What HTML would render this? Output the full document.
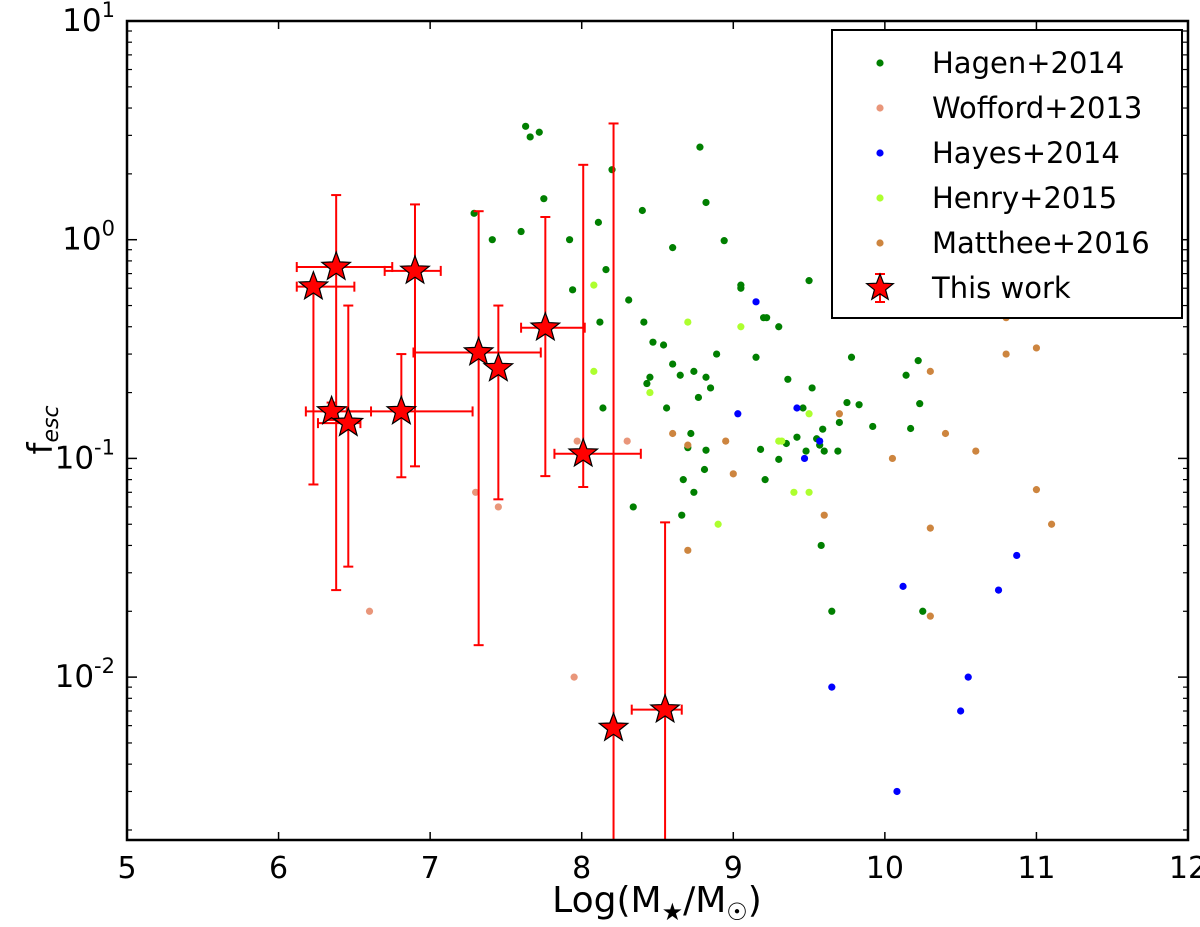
<!DOCTYPE html>
<html><head><meta charset="utf-8"><style>
body{margin:0;background:#fff;}
svg text{font-family:"DejaVu Sans","Liberation Sans",sans-serif;}
</style></head><body>
<svg id="chart" width="1200" height="922" viewBox="0 0 1200 922" xmlns="http://www.w3.org/2000/svg">
<g id="marks"></g>
<g id="axes"></g>
<g id="legend"></g>
</svg>
<script>
const xTicks=[5,6,7,8,9,10,11,12];
const yTickExp=[-2,-1,0,1];
const hagenX=[7.63,7.66,7.72,7.75,7.29,7.41,7.60,7.92,8.11,8.20,8.40,8.60,8.78,8.82,8.94,8.16,7.94,8.12,8.31,8.41,8.47,8.54,8.60,8.65,8.74,8.82,8.89,8.77,8.72,8.45,8.43,8.56,8.70,8.67,8.74,8.81,8.82,8.85,9.50,9.05,9.15,9.20,9.30,9.46,9.52,9.55,9.60,9.69,9.70,9.78,9.92,10.14,10.22,10.17,9.18,9.21,9.22,8.14,8.34,8.66,9.57,9.75,9.65,10.25,10.23,9.42,9.30,9.36,9.83,9.59,9.35,9.48,9.58,9.05];
const hagenY=[3.3,2.95,3.1,1.54,1.32,1.0,1.09,1.0,1.2,2.09,1.36,0.92,2.65,1.48,0.99,0.73,0.59,0.42,0.53,0.42,0.34,0.33,0.27,0.24,0.25,0.235,0.30,0.19,0.13,0.235,0.22,0.17,0.112,0.080,0.070,0.089,0.109,0.21,0.65,0.62,0.29,0.44,0.40,0.17,0.21,0.123,0.108,0.108,0.146,0.29,0.14,0.24,0.28,0.137,0.110,0.080,0.44,0.17,0.060,0.055,0.115,0.18,0.020,0.020,0.178,0.125,0.099,0.23,0.176,0.136,0.117,0.108,0.04,0.60];
const woffordX=[6.6,7.3,7.45,7.95,7.97,8.3];
const woffordY=[0.02,0.07,0.06,0.01,0.12,0.12];
const hayesX=[9.15,9.42,9.47,9.57,9.03,10.08,9.65,10.12,10.5,10.55,10.75,10.87];
const hayesY=[0.52,0.17,0.10,0.12,0.16,0.003,0.009,0.026,0.007,0.01,0.025,0.036];
const henryX=[8.08,8.08,8.45,8.7,9.05,9.3,9.4,9.5,9.5,8.9,9.32];
const henryY=[0.62,0.25,0.2,0.42,0.40,0.12,0.07,0.07,0.16,0.05,0.12];
const mattheeX=[8.6,8.7,8.95,9.0,9.6,9.7,10.05,10.3,10.3,10.3,10.4,10.6,10.8,10.8,11.0,11.0,11.1,8.7];
const mattheeY=[0.13,0.115,0.12,0.085,0.055,0.16,0.1,0.25,0.048,0.019,0.13,0.108,0.44,0.3,0.32,0.072,0.05,0.038];
const starX=[6.23,6.38,6.90,6.35,6.46,6.81,7.32,7.45,7.76,8.01,8.21,8.55];
const starY=[0.61,0.75,0.72,0.164,0.145,0.164,0.305,0.258,0.396,0.105,0.00585,0.0071];
const starXlo=[6.12,6.12,6.70,6.18,6.26,6.45,6.89,7.45,7.60,7.82,8.21,8.33];
const starXhi=[6.50,6.75,7.07,6.61,6.54,7.28,7.73,7.45,8.02,8.39,8.21,8.66];
const starYlo=[0.076,0.025,0.092,0.15,0.032,0.082,0.014,0.065,0.083,0.074,0.0008,0.0008];
const starYhi=[0.63,1.6,1.45,0.18,0.5,0.3,1.35,0.5,1.27,2.2,3.4,0.051];

const L=127,R=1188,T=21,B=840;
const X0=5,X1=12,YL=Math.log10(0.0018),YH=1;
const sx=v=>L+(v-X0)/(X1-X0)*(R-L);
const sy=v=>{let lv=Math.log10(v);lv=Math.max(YL-0.1,Math.min(YH,lv));return B-(lv-YL)/(YH-YL)*(B-T);};
const NS="http://www.w3.org/2000/svg";
function mk(tag,attrs,parent){const e=document.createElementNS(NS,tag);for(const k in attrs)e.setAttribute(k,attrs[k]);parent.appendChild(e);return e;}
const marks=document.getElementById('marks'),axes=document.getElementById('axes'),leg=document.getElementById('legend');
const clip=mk('clipPath',{id:'pc'},document.getElementById('chart'));
mk('rect',{x:L,y:T,width:R-L,height:B-T},clip);
marks.setAttribute('clip-path','url(#pc)');

function scatter(xs,ys,color,name){
  const g=mk('g',{},marks);
  
  
  xs.forEach((x,i)=>{
    const c=mk('circle',{cx:sx(x),cy:sy(ys[i]),r:3.6,fill:color},g);
    
    
  });
}
scatter(hagenX,hagenY,'#007f00','hagen-2014');
scatter(woffordX,woffordY,'#e9967a','wofford-2013');
scatter(hayesX,hayesY,'#0000ff','hayes-2014');
scatter(henryX,henryY,'#adff2f','henry-2015');
scatter(mattheeX,mattheeY,'#cd853f','matthee-2016');

function starPath(cx,cy,r){let p='';for(let i=0;i<10;i++){const a=-Math.PI/2+i*Math.PI/5;const rr=i%2?r*0.42:r;p+=(i?'L':'M')+(cx+rr*Math.cos(a)).toFixed(1)+' '+(cy+rr*Math.sin(a)).toFixed(1);}return p+'Z';}
const sg=mk('g',{},marks);


starX.forEach((x,i)=>{
  const eb=mk('g',{stroke:'#ff0000','stroke-width':2,fill:'none'},sg);
  
  
  const cx=sx(x),cy=sy(starY[i]);
  const y1=sy(starYhi[i]),y2=sy(starYlo[i]);
  mk('line',{x1:cx,x2:cx,y1:y1,y2:y2},eb);
  mk('line',{x1:cx-5,x2:cx+5,y1:y1,y2:y1},eb);
  mk('line',{x1:cx-5,x2:cx+5,y1:y2,y2:y2},eb);
  const x1=sx(starXlo[i]),x2=sx(starXhi[i]);
  if(x2-x1>2){
    mk('line',{x1:x1,x2:x2,y1:cy,y2:cy},eb);
    mk('line',{x1:x1,x2:x1,y1:cy-5,y2:cy+5},eb);
    mk('line',{x1:x2,x2:x2,y1:cy-5,y2:cy+5},eb);
  }
});
starX.forEach((x,i)=>{
  const s=mk('path',{d:starPath(sx(x),sy(starY[i]),15),fill:'#ff0000',stroke:'#000','stroke-width':1.2},sg);
  
  
});

const fr=mk('rect',{x:L,y:T,width:R-L,height:B-T,fill:'none',stroke:'#000','stroke-width':2.5},axes);


xTicks.forEach(t=>{
  const x=sx(t);
  mk('line',{x1:x,x2:x,y1:B,y2:B-8,stroke:'#000','stroke-width':1.5},axes);
  mk('line',{x1:x,x2:x,y1:T,y2:T+8,stroke:'#000','stroke-width':1.5},axes);
  const tx=mk('text',{x:x,y:B+38,'font-size':30,'text-anchor':'middle'},axes);
  tx.textContent=t;
  
  
});
yTickExp.forEach(e=>{
  const y=sy(Math.pow(10,e));
  mk('line',{x1:L,x2:L+10,y1:y,y2:y,stroke:'#000','stroke-width':1.5},axes);
  mk('line',{x1:R,x2:R-10,y1:y,y2:y,stroke:'#000','stroke-width':1.5},axes);
  const tx=mk('text',{x:L-12,y:y+10,'font-size':31,'text-anchor':'end'},axes);
  
  
  const a=mk('tspan',{},tx);a.textContent='10';
  const b=mk('tspan',{dy:-14,'font-size':21},tx);b.textContent=String(e);
});
for(let e=-3;e<1;e++)for(let m=2;m<10;m++){
  const v=m*Math.pow(10,e);if(Math.log10(v)<YL)continue;
  const y=sy(v);
  mk('line',{x1:L,x2:L+5,y1:y,y2:y,stroke:'#000','stroke-width':1.2},axes);
  mk('line',{x1:R,x2:R-5,y1:y,y2:y,stroke:'#000','stroke-width':1.2},axes);
}
const xl=mk('text',{x:657,y:912,'font-size':36,'text-anchor':'middle'},axes);


xl.innerHTML='Log(M<tspan font-size="24" dy="8">★</tspan><tspan dy="-8">/M</tspan><tspan font-size="24" dy="8">☉</tspan><tspan dy="-8">)</tspan>';
const yl=mk('text',{x:0,y:0,'font-size':34,'text-anchor':'middle',transform:'translate(52,430) rotate(-90)'},axes);


yl.innerHTML='f<tspan font-size="22" dy="6" font-style="italic">esc</tspan>';

const lb=mk('rect',{x:832,y:30,width:350,height:288,fill:'#fff',stroke:'#000','stroke-width':2},leg);


const entries=[['Hagen+2014','#007f00'],['Wofford+2013','#e9967a'],['Hayes+2014','#0000ff'],['Henry+2015','#adff2f'],['Matthee+2016','#cd853f'],['This work','star']];
entries.forEach((en,i)=>{
  const y=63+i*45;
  const g=mk('g',{},leg);
  
  
  if(en[1]==='star'){
    mk('line',{x1:880,x2:880,y1:y-14,y2:y+14,stroke:'#ff0000','stroke-width':2},g);
    mk('line',{x1:875,x2:885,y1:y-14,y2:y-14,stroke:'#ff0000','stroke-width':2},g);
    mk('line',{x1:875,x2:885,y1:y+14,y2:y+14,stroke:'#ff0000','stroke-width':2},g);
    mk('path',{d:starPath(880,y,14),fill:'#ff0000',stroke:'#000','stroke-width':1.2},g);
  } else mk('circle',{cx:880,cy:y,r:3.6,fill:en[1]},g);
  const t=mk('text',{x:932,y:y+10,'font-size':29},g);
  t.textContent=en[0];
});
</script>
</body></html>
